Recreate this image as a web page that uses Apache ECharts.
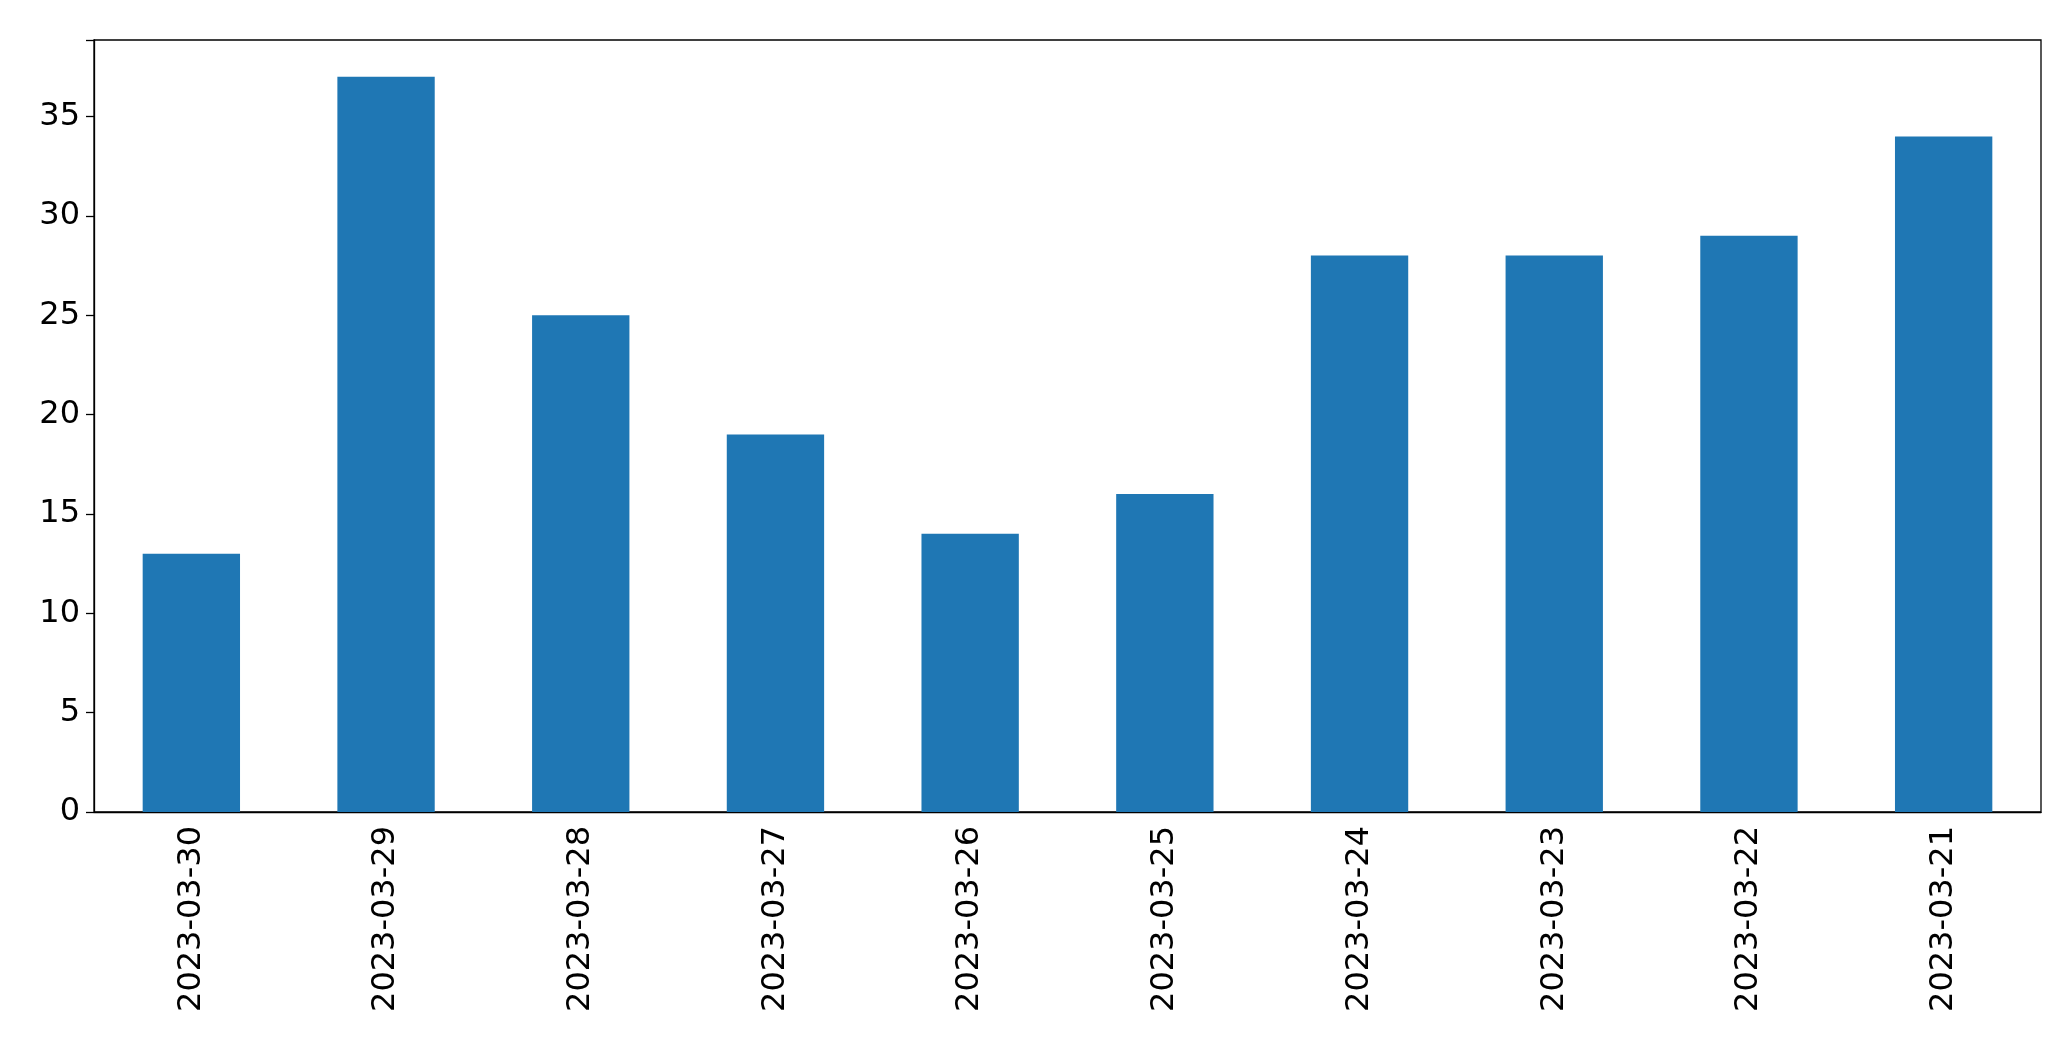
<!DOCTYPE html>
<html><head><meta charset="utf-8">
<script src="https://cdn.jsdelivr.net/npm/echarts@6/dist/echarts.min.js"></script>
<style>html,body{margin:0;padding:0;background:#fff}#c{width:2071px;height:1061px}</style>
</head><body><div id="c"></div>
<script>
const categories = ["2023-03-30","2023-03-29","2023-03-28","2023-03-27","2023-03-26","2023-03-25","2023-03-24","2023-03-23","2023-03-22","2023-03-21"];
const values = [13,37,25,19,14,16,28,28,29,34];
const yTicks = [0,5,10,15,20,25,30,35];
const chart = echarts.init(document.getElementById('c'));
const font = 'DejaVu Sans';
chart.setOption({
  animation:false,
  grid:{left:94,right:30,top:40,bottom:249,show:true,borderColor:'#000',borderWidth:1.3},
  xAxis:{type:'category',data:categories,
    axisLine:{lineStyle:{color:'#000',width:1.3}},
    axisTick:{alignWithLabel:true,length:8,lineStyle:{color:'#000',width:1.3}},
    axisLabel:{rotate:90,fontSize:32,color:'#000',fontFamily:font,margin:14}},
  yAxis:{type:'value',min:0,max:38.85,interval:5,
    axisLine:{show:true,lineStyle:{color:'#000',width:1.3}},
    axisTick:{show:true,length:8,lineStyle:{color:'#000',width:1.3}},
    splitLine:{show:false},
    axisLabel:{fontSize:32,color:'#000',fontFamily:font,margin:14,
      formatter:v=>yTicks.includes(v)?String(v):''}},
  series:[{type:'bar',data:values,barWidth:'50%',itemStyle:{color:'#1f77b4'}}]
});
</script></body></html>
